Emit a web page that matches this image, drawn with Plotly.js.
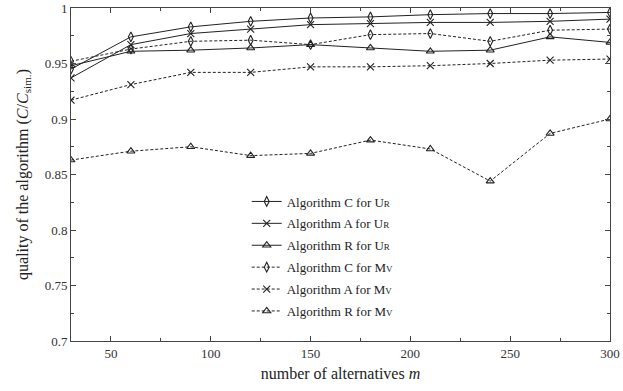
<!DOCTYPE html>
<html>
<head>
<meta charset="utf-8">
<script src="https://cdn.plot.ly/plotly-3.0.1.min.js"></script>
<style>
  body { margin: 0; background: #fff; }
  #chart { width: 623px; height: 391px; }
</style>
</head>
<body>
<div id="chart"></div>
<script>
const alternatives = [30, 60, 90, 120, 150, 180, 210, 240, 270, 300];

const algCUr = [0.945, 0.974, 0.983, 0.988, 0.991, 0.992, 0.994, 0.995, 0.995, 0.996];
const algAUr = [0.937, 0.967, 0.977, 0.981, 0.985, 0.986, 0.987, 0.987, 0.988, 0.990];
const algRUr = [0.948, 0.961, 0.962, 0.964, 0.967, 0.964, 0.961, 0.962, 0.974, 0.969];
const algCMv = [0.952, 0.963, 0.970, 0.971, 0.967, 0.976, 0.977, 0.970, 0.980, 0.981];
const algAMv = [0.917, 0.931, 0.942, 0.942, 0.947, 0.947, 0.948, 0.950, 0.953, 0.954];
const algRMv = [0.863, 0.871, 0.875, 0.867, 0.869, 0.881, 0.873, 0.844, 0.887, 0.900];

const ur = "U<span style='font-size:9px'>R</span>";
const mv = "M<span style='font-size:9px'>V</span>";

function series(y, name, symbol, dash) {
  return {
    x: alternatives,
    y: y,
    name: name,
    legendgroup: name,
    type: "scatter",
    mode: "lines+markers",
    line: { color: "#222", width: 1, dash: dash },
    marker: {
      symbol: symbol,
      size: 7,
      color: "#222",
      line: { color: "#222", width: 1.1 }
    }
  };
}

const traces = [
  series(algCUr, "Algorithm C for " + ur, "diamond-tall-open", "solid"),
  series(algAUr, "Algorithm A for " + ur, "x-thin-open", "solid"),
  series(algRUr, "Algorithm R for " + ur, "triangle-up-open", "solid"),
  series(algCMv, "Algorithm C for " + mv, "diamond-tall-open", "3px,2px"),
  series(algAMv, "Algorithm A for " + mv, "x-thin-open", "3px,2px"),
  series(algRMv, "Algorithm R for " + mv, "triangle-up-open", "3px,2px")
];

const axisCommon = {
  showgrid: false,
  zeroline: false,
  showline: true,
  mirror: "ticks",
  linecolor: "#444",
  linewidth: 1,
  ticks: "inside",
  ticklen: 5,
  tickcolor: "#444",
  tickfont: { family: "Liberation Serif, DejaVu Serif, serif", size: 13, color: "#333" }
};

const layout = {
  width: 623,
  height: 391,
  margin: { l: 71, r: 13, t: 8, b: 50 },
  paper_bgcolor: "#fff",
  plot_bgcolor: "#fff",
  font: { family: "Liberation Serif, DejaVu Serif, serif", size: 13, color: "#222" },
  showlegend: true,
  legend: {
    x: 0.326,
    y: 0.464,
    xanchor: "left",
    yanchor: "top",
    tracegroupgap: 2,
    bgcolor: "rgba(255,255,255,0)",
    font: { size: 13 }
  },
  xaxis: Object.assign({}, axisCommon, {
    range: [30, 300],
    tickvals: [50, 100, 150, 200, 250, 300],
    minor: { dtick: 25, tick0: 0, ticks: "inside", ticklen: 3, tickcolor: "#444" },
    title: { text: "number of alternatives <i>m</i>", standoff: 8 }
  }),
  yaxis: Object.assign({}, axisCommon, {
    range: [0.7, 1],
    dtick: 0.05,
    minor: { dtick: 0.025, ticks: "inside", ticklen: 3, tickcolor: "#444" },
    title: { text: "quality of the algorithm (<i>C</i>/<i>C</i><sub>sim.</sub>)", standoff: 12 }
  })
};

Plotly.newPlot("chart", traces, layout, { displayModeBar: false, staticPlot: true });
</script>
</body>
</html>
